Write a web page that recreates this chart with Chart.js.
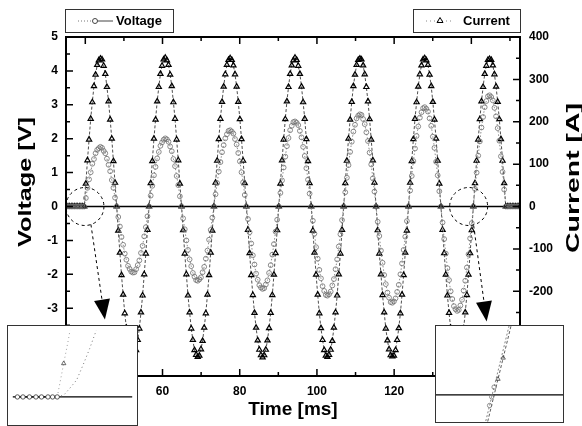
<!DOCTYPE html>
<html>
<head>
<meta charset="utf-8">
<script src="https://cdn.jsdelivr.net/npm/chart.js@4.4.1/dist/chart.umd.min.js"></script>
<style>
  body { margin: 0; background: #fff; }
  #wrap { position: relative; width: 582px; height: 426px; }
  #wrap canvas { display: block; }
  .inset { position: absolute; background: #fff; border: 1px solid #333; box-sizing: border-box; }
</style>
</head>
<body>
<div id="wrap">
  <canvas id="main" width="582" height="426"></canvas>
  <div class="inset" style="left:7px;top:325px;width:131px;height:101px"><canvas id="insetLeft" width="129" height="99"></canvas></div>
  <div class="inset" style="left:435px;top:325px;width:129px;height:98px"><canvas id="insetRight" width="127" height="96"></canvas></div>
</div>
<script>
// sampling of the recorder: first sample time and interval [ms]
var sampleStart = 35.1;
var sampleStep = 0.42;

// voltage [V], one line per half cycle
var voltage = [
  0, 0, 0, 0, 0, 0, 0, 0, 0, 0, 0,
  0,
  0.25, 0.55, 0.80, 1.01, 1.26, 1.40, 1.57, 1.67, 1.72, 1.76, 1.73, 1.64, 1.57, 1.41, 1.23, 1.04, 0.78, 0.55, 0.26, 0,
  -0.31, -0.59, -0.90, -1.13, -1.39, -1.57, -1.75, -1.84, -1.92, -1.95, -1.94, -1.85, -1.73, -1.59, -1.37, -1.16, -0.88, -0.61, -0.29, 0,
  0.32, 0.61, 0.92, 1.17, 1.42, 1.61, 1.79, 1.89, 1.97, 2.01, 1.98, 1.91, 1.77, 1.63, 1.40, 1.19, 0.90, 0.63, 0.30, 0,
  -0.35, -0.67, -1.00, -1.28, -1.56, -1.76, -1.96, -2.07, -2.17, -2.19, -2.15, -2.09, -1.94, -1.78, -1.54, -1.30, -0.98, -0.69, -0.33, 0,
  0.36, 0.69, 1.03, 1.31, 1.60, 1.81, 2.01, 2.13, 2.23, 2.25, 2.21, 2.15, 1.99, 1.83, 1.58, 1.33, 1.01, 0.71, 0.34, 0,
  -0.37, -0.76, -1.09, -1.44, -1.71, -1.98, -2.16, -2.32, -2.39, -2.43, -2.41, -2.30, -2.18, -1.96, -1.73, -1.42, -1.11, -0.74, -0.39, 0,
  0.40, 0.77, 1.15, 1.47, 1.78, 2.02, 2.25, 2.38, 2.49, 2.51, 2.47, 2.40, 2.23, 2.04, 1.76, 1.49, 1.13, 0.79, 0.38, 0,
  -0.42, -0.80, -1.20, -1.54, -1.87, -2.12, -2.35, -2.49, -2.61, -2.63, -2.59, -2.51, -2.33, -2.14, -1.85, -1.56, -1.18, -0.82, -0.40, 0,
  0.42, 0.85, 1.22, 1.61, 1.91, 2.21, 2.41, 2.60, 2.68, 2.72, 2.70, 2.58, 2.43, 2.19, 1.93, 1.59, 1.24, 0.83, 0.44, 0,
  -0.45, -0.87, -1.30, -1.66, -2.02, -2.29, -2.54, -2.69, -2.82, -2.84, -2.80, -2.71, -2.52, -2.31, -2.00, -1.68, -1.28, -0.89, -0.43, 0,
  0.47, 0.90, 1.34, 1.71, 2.08, 2.36, 2.62, 2.78, 2.90, 2.93, 2.88, 2.80, 2.60, 2.38, 2.06, 1.73, 1.32, 0.92, 0.45, 0,
  -0.47, -0.96, -1.39, -1.82, -2.17, -2.50, -2.73, -2.94, -3.03, -3.08, -3.05, -2.92, -2.75, -2.48, -2.19, -1.80, -1.41, -0.94, -0.49, 0,
  0.52, 1.00, 1.50, 1.92, 2.33, 2.64, 2.93, 3.11, 3.25, 3.28, 3.23, 3.13, 2.91, 2.66, 2.31, 1.94, 1.48, 1.02, 0.50, 0,
  0, 0, 0, 0, 0, 0, 0, 0
];

// current [A], same samples
var current = [
  0, 0, 0, 0, 0, 0, 0, 0, 0, 0, 0,
  0,
  54, 109, 158, 207, 246, 284, 311, 334, 345, 349, 347, 332, 313, 282, 248, 205, 160, 107, 56, 0,
  -57, -109, -162, -208, -252, -286, -317, -337, -352, -356, -350, -339, -315, -288, -250, -210, -160, -111, -55, 0,
  55, 107, 160, 205, 248, 282, 313, 332, 347, 351, 345, 334, 311, 284, 246, 207, 158, 109, 54, 0,
  -56, -111, -160, -210, -250, -288, -315, -339, -350, -355, -352, -337, -317, -286, -252, -208, -162, -109, -57, 0,
  56, 108, 159, 207, 247, 283, 312, 334, 346, 350, 346, 333, 312, 283, 247, 206, 159, 108, 55, 0,
  -55, -110, -162, -209, -251, -286, -316, -338, -351, -356, -351, -338, -316, -287, -251, -209, -161, -110, -56, 0,
  54, 109, 158, 206, 248, 282, 313, 333, 345, 351, 346, 332, 313, 283, 246, 207, 159, 107, 55, 0,
  -57, -109, -161, -208, -252, -287, -315, -339, -352, -355, -350, -338, -317, -286, -250, -210, -160, -111, -55, 0,
  55, 108, 160, 205, 247, 284, 311, 334, 346, 349, 347, 333, 312, 282, 248, 206, 158, 109, 56, 0,
  -56, -111, -160, -209, -250, -288, -316, -337, -351, -354, -352, -339, -315, -287, -252, -208, -162, -109, -57, 0,
  56, 107, 159, 207, 246, 283, 312, 333, 347, 350, 345, 334, 311, 284, 247, 205, 160, 108, 54, 0,
  -55, -110, -161, -210, -251, -286, -317, -338, -350, -356, -351, -337, -316, -288, -250, -209, -161, -110, -56, 0,
  55, 108, 158, 206, 248, 282, 313, 332, 346, 348, 346, 333, 312, 283, 247, 206, 159, 108, 55, 0,
  0, 0, 0, 0, 0, 0, 0, 0
];

var timeTicks = [40, 60, 80, 100, 120, 140];
var voltageTicks = [-5, -4, -3, -2, -1, 0, 1, 2, 3, 4, 5];
var currentTicks = [-400, -300, -200, -100, 0, 100, 200, 300, 400];

// zoomed views (insets)
var leftFlatTime = [39.05, 39.11, 39.18, 39.25, 39.31, 39.38, 39.43, 39.48];
var leftFlatVolt = [0, 0, 0, 0, 0, 0, 0, 0];
var leftRiseTime = [39.48, 39.55, 39.61, 39.69, 39.76, 39.83, 39.90, 39.96];
var leftRiseVolt = [0, 0.02, 0.09, 0.19, 0.36, 0.54, 0.74, 0.90];
var leftCurTime = [39.48, 39.55, 39.60, 39.65];
var leftCurAmp = [0, 30, 51, 75];

var rightVoltTime = [139.45, 139.536, 139.557, 139.581, 139.78];
var rightVolt = [-0.47, -0.11, -0.02, 0.08, 0.92];
var rightCurTime = [139.47, 139.62, 139.672, 139.78];
var rightCurAmp = [-38, 13, 30.5, 67];

var FONT = '"Liberation Sans", Arial, sans-serif';

function pairs(xs, ys) {
  return ys.map(function (y, i) { return { x: xs[i], y: y }; });
}
var sampleTime = voltage.map(function (v, i) { return +(sampleStart + i * sampleStep).toFixed(3); });

// dashed circles around the zero crossings and the arrows to the insets
var callouts = [
  { t: 39.9, r: 19, sx: 6, sy: 18, tx: 20, ty: 113 },
  { t: 139.3, r: 19, sx: 5, sy: 19, tx: 18, ty: 115 }
];

function tickRun(ctx, scale, step, majors, draw) {
  for (var k = Math.ceil(scale.min / step - 1e-9); k * step <= scale.max + 1e-9; k++) {
    var v = +(k * step).toFixed(6);
    draw(scale.getPixelForValue(v), majors.indexOf(v) >= 0 ? 7 : 4);
  }
}

function stretchedText(ctx, text, cx, cy, size, length, rot) {
  ctx.save();
  ctx.translate(cx, cy);
  if (rot) ctx.rotate(-Math.PI / 2);
  ctx.font = 'bold ' + size + 'px ' + FONT;
  var w = ctx.measureText(text).width;
  if (length) ctx.scale(length / w, 1);
  ctx.textAlign = 'center';
  ctx.textBaseline = 'middle';
  ctx.fillStyle = '#000';
  ctx.fillText(text, 0, 0);
  ctx.restore();
}

var inkPlugin = {
  id: 'ink',
  beforeDatasetsDraw: function (chart) {
    var ctx = chart.ctx, a = chart.chartArea;
    var y0 = chart.scales.yV.getPixelForValue(0);
    ctx.save();
    ctx.strokeStyle = '#000';
    ctx.lineWidth = 1.5;
    ctx.beginPath();
    ctx.moveTo(a.left, y0);
    ctx.lineTo(a.right, y0);
    ctx.stroke();
    ctx.restore();
  },
  afterDatasetsDraw: function (chart) {
    var ctx = chart.ctx, a = chart.chartArea;
    var x = chart.scales.x, yV = chart.scales.yV, yA = chart.scales.yA;
    ctx.save();
    ctx.strokeStyle = '#000';
    ctx.lineWidth = 2;
    ctx.strokeRect(a.left, a.top, a.right - a.left, a.bottom - a.top);

    ctx.lineWidth = 1.5;
    ctx.beginPath();
    tickRun(ctx, x, 10, timeTicks, function (p, len) {
      ctx.moveTo(p, a.bottom); ctx.lineTo(p, a.bottom - len);
      ctx.moveTo(p, a.top); ctx.lineTo(p, a.top + len);
    });
    tickRun(ctx, yV, 0.5, voltageTicks, function (p, len) {
      ctx.moveTo(a.left, p); ctx.lineTo(a.left + len, p);
    });
    tickRun(ctx, yA, 50, currentTicks, function (p, len) {
      ctx.moveTo(a.right, p); ctx.lineTo(a.right - len, p);
    });
    ctx.stroke();

    // callouts
    callouts.forEach(function (c) {
      var cx = x.getPixelForValue(c.t), cy = yV.getPixelForValue(0);
      ctx.lineWidth = 1;
      ctx.setLineDash([3, 3]);
      ctx.beginPath();
      ctx.arc(cx, cy, c.r, 0, Math.PI * 2);
      ctx.stroke();
      var sx = cx + c.sx, sy = cy + c.sy, tx = cx + c.tx, ty = cy + c.ty;
      var ang = Math.atan2(ty - sy, tx - sx);
      var bx = tx - 20 * Math.cos(ang), by = ty - 20 * Math.sin(ang);
      ctx.beginPath();
      ctx.moveTo(sx, sy);
      ctx.lineTo(bx, by);
      ctx.stroke();
      ctx.setLineDash([]);
      ctx.fillStyle = '#000';
      ctx.beginPath();
      ctx.moveTo(tx, ty);
      ctx.lineTo(bx + 8 * Math.sin(ang), by - 8 * Math.cos(ang));
      ctx.lineTo(bx - 8 * Math.sin(ang), by + 8 * Math.cos(ang));
      ctx.closePath();
      ctx.fill();
    });
    ctx.restore();
  },
  afterDraw: function (chart) {
    var ctx = chart.ctx;
    stretchedText(ctx, 'Voltage [V]', 26, 182, 19, 130, true);
    stretchedText(ctx, 'Current [A]', 574, 178, 19, 150, true);
    stretchedText(ctx, 'Time [ms]', 293, 410, 19, 0, false);

    // legend boxes
    ctx.save();
    ctx.strokeStyle = '#333';
    ctx.lineWidth = 1;
    ctx.strokeRect(65.5, 9.5, 108, 23);
    ctx.strokeRect(413.5, 9.5, 107, 23);
    ctx.strokeStyle = '#777';
    ctx.setLineDash([1, 2]);
    ctx.beginPath(); ctx.moveTo(78, 21); ctx.lineTo(92.5, 21); ctx.stroke();
    ctx.setLineDash([]);
    ctx.strokeStyle = '#444';
    ctx.beginPath(); ctx.arc(95, 21, 2.5, 0, Math.PI * 2); ctx.stroke();
    ctx.beginPath(); ctx.moveTo(97.5, 21); ctx.lineTo(113, 21); ctx.stroke();
    ctx.strokeStyle = '#888';
    ctx.setLineDash([1, 3]);
    ctx.beginPath(); ctx.moveTo(426, 21); ctx.lineTo(454, 21); ctx.stroke();
    ctx.setLineDash([]);
    ctx.strokeStyle = '#000';
    ctx.beginPath();
    ctx.moveTo(440, 17.5); ctx.lineTo(443, 22.5); ctx.lineTo(437, 22.5); ctx.closePath();
    ctx.stroke();
    ctx.fillStyle = '#000';
    ctx.font = 'bold 13px ' + FONT;
    ctx.textBaseline = 'middle';
    ctx.textAlign = 'left';
    ctx.fillText('Voltage', 116, 21.5);
    ctx.fillText('Current', 463, 21.5);
    ctx.restore();
  }
};

var tickFont = { family: FONT, size: 12, weight: 'bold' };

new Chart(document.getElementById('main'), {
  type: 'line',
  data: {
    datasets: [
      {
        label: 'Voltage',
        data: pairs(sampleTime, voltage),
        yAxisID: 'yV',
        borderColor: '#8c8c8c',
        borderWidth: 1,
        borderDash: [1.5, 2],
        pointStyle: 'circle',
        pointRadius: 2.4,
        pointBorderColor: '#6e6e6e',
        pointBackgroundColor: 'rgba(255,255,255,0)',
        pointBorderWidth: 0.8
      },
      {
        label: 'Current',
        data: pairs(sampleTime, current),
        yAxisID: 'yA',
        borderColor: '#222',
        borderWidth: 0.8,
        borderDash: [3, 2],
        pointStyle: 'triangle',
        pointRadius: 3,
        pointBorderColor: '#000',
        pointBackgroundColor: 'rgba(255,255,255,0)',
        pointBorderWidth: 1.2
      }
    ]
  },
  options: {
    responsive: false,
    animation: false,
    events: [],
    layout: { padding: { top: 37, left: 0, right: 0, bottom: 0 } },
    plugins: { legend: { display: false }, tooltip: { enabled: false } },
    scales: {
      x: {
        type: 'linear', min: 35, max: 152.6,
        afterBuildTicks: function (s) { s.ticks = timeTicks.map(function (v) { return { value: v }; }); },
        afterFit: function (s) { s.height = 50; },
        grid: { display: false, drawTicks: false },
        border: { display: false },
        ticks: { font: tickFont, color: '#000', padding: 8, maxRotation: 0, autoSkip: false }
      },
      yV: {
        type: 'linear', position: 'left', min: -5, max: 5,
        afterBuildTicks: function (s) { s.ticks = voltageTicks.map(function (v) { return { value: v }; }); },
        afterFit: function (s) { s.width = 66; },
        grid: { display: false, drawTicks: false },
        border: { display: false },
        ticks: { font: tickFont, color: '#000', padding: 8, autoSkip: false }
      },
      yA: {
        type: 'linear', position: 'right', min: -400, max: 400,
        afterBuildTicks: function (s) { s.ticks = currentTicks.map(function (v) { return { value: v }; }); },
        afterFit: function (s) { s.width = 62; },
        grid: { display: false, drawTicks: false },
        border: { display: false },
        ticks: { font: tickFont, color: '#000', padding: 9, autoSkip: false }
      }
    }
  },
  plugins: [inkPlugin]
});

// insets
var zeroLine = {
  id: 'zeroLine',
  beforeDatasetsDraw: function (chart) {
    var ctx = chart.ctx, a = chart.chartArea;
    var y0 = chart.scales.y.getPixelForValue(0);
    ctx.save();
    ctx.strokeStyle = '#000';
    ctx.lineWidth = 1.2;
    ctx.beginPath(); ctx.moveTo(a.left, y0); ctx.lineTo(a.right, y0); ctx.stroke();
    ctx.restore();
  }
};

function insetChart(id, xr, vr, ar, datasets) {
  return new Chart(document.getElementById(id), {
    type: 'line',
    data: { datasets: datasets },
    options: {
      responsive: false, animation: false, events: [],
      layout: { padding: 0 },
      plugins: { legend: { display: false }, tooltip: { enabled: false } },
      scales: {
        x: { type: 'linear', display: false, min: xr[0], max: xr[1] },
        y: { display: false, min: vr[0], max: vr[1] },
        y2: { display: false, min: ar[0], max: ar[1] }
      }
    },
    plugins: [zeroLine]
  });
}

insetChart('insetLeft', [39.0, 40.29], [-0.26, 0.74], [-20.8, 59.2], [
  { data: pairs(leftFlatTime, leftFlatVolt), yAxisID: 'y', borderColor: '#000', borderWidth: 1,
    pointRadius: 2.2, pointBorderColor: '#333', pointBackgroundColor: '#fff', pointBorderWidth: 0.8 },
  { data: pairs(leftRiseTime, leftRiseVolt), yAxisID: 'y', borderColor: '#777', borderWidth: 1,
    borderDash: [1, 3], pointRadius: 0 },
  { data: pairs(leftCurTime, leftCurAmp), yAxisID: 'y2', borderColor: '#888', borderWidth: 0.8,
    borderDash: [1, 3], pointStyle: 'triangle',
    pointRadius: function (c) { return c.dataIndex === 1 ? 2.5 : 0; },
    pointBorderColor: '#444', pointBackgroundColor: 'rgba(255,255,255,0)', pointBorderWidth: 0.8 }
]);

insetChart('insetRight', [139.0, 140.27], [-0.28, 0.71], [-22.4, 56.8], [
  { data: pairs(rightVoltTime, rightVolt), yAxisID: 'y', borderColor: '#666', borderWidth: 0.8,
    borderDash: [2, 2],
    pointRadius: function (c) { return c.dataIndex > 0 && c.dataIndex < 4 ? 2.2 : 0; },
    pointBorderColor: '#777', pointBackgroundColor: 'rgba(255,255,255,0)', pointBorderWidth: 0.8 },
  { data: pairs(rightCurTime, rightCurAmp), yAxisID: 'y2', borderColor: '#333', borderWidth: 0.8,
    borderDash: [3, 2], pointStyle: 'triangle',
    pointRadius: function (c) { return c.dataIndex === 1 || c.dataIndex === 2 ? 2.5 : 0; },
    pointBorderColor: '#444', pointBackgroundColor: 'rgba(255,255,255,0)', pointBorderWidth: 0.8 }
]);
</script>
</body>
</html>
